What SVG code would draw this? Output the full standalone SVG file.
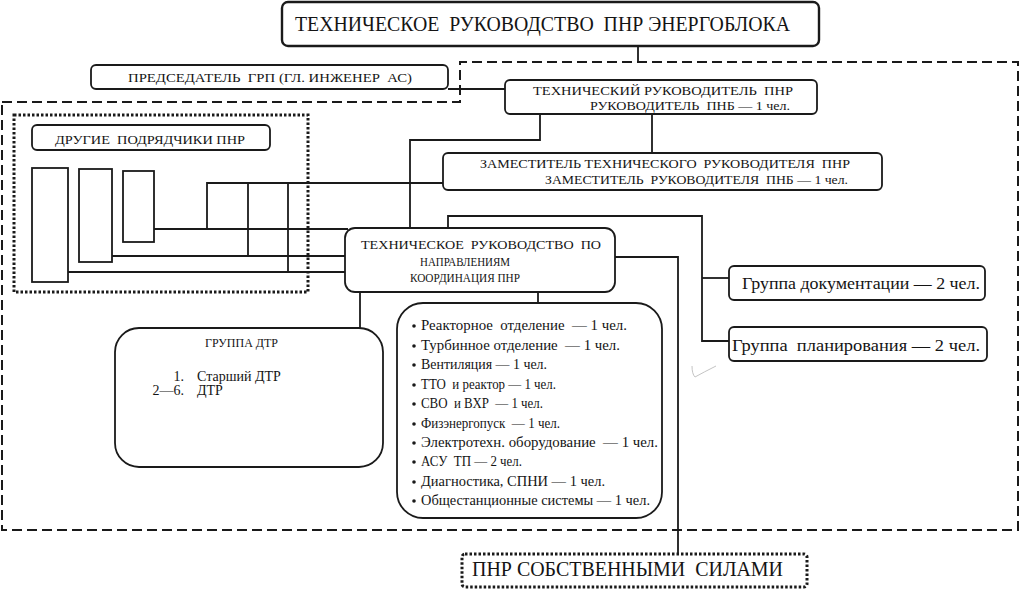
<svg xmlns="http://www.w3.org/2000/svg" width="1024" height="590" viewBox="0 0 1024 590" font-family="'Liberation Serif', 'Times New Roman', 'DejaVu Serif', serif">
<style>
.box{fill:#fff;stroke:#1a1a1a;stroke-width:1.8}
.tbox{fill:#fff;stroke:#1a1a1a;stroke-width:2.4}
.conn{fill:none;stroke:#1a1a1a;stroke-width:1.8}
.dash{fill:none;stroke:#1a1a1a;stroke-width:2;stroke-dasharray:10 5}
.dot{fill:none;stroke:#1a1a1a;stroke-width:3;stroke-dasharray:2.5 2}
text{font-family:"Liberation Serif","Times New Roman","DejaVu Serif",serif;fill:#141414;white-space:pre}
.s13{font-size:13px}
.s14{font-size:14px}
.s12{font-size:12px}
.s17{font-size:17px}
.s21{font-size:21px}
.s22{font-size:22px}
</style>
<rect width="1024" height="590" fill="#fff"/>
<g id="frames">
<path class="dash" d="M2,102 H460 V62 H1018 V530 H2 Z"/>
<rect class="dot" x="14" y="115" width="294" height="177"/>
</g>
<g id="connectors">
<path class="conn" d="M638,46 V62"/>
<path class="conn" d="M448,89 H505"/>
<path class="conn" d="M540,114 V140 H410 V228"/>
<path class="conn" d="M652,114 V153"/>
<path class="conn" d="M443,183 H207 V229"/>
<path class="conn" d="M248,183 V256"/>
<path class="conn" d="M288,183 V272"/>
<path class="conn" d="M154,229 H348"/>
<path class="conn" d="M112,256 H345"/>
<path class="conn" d="M68,272 H345"/>
<path class="conn" d="M448,228 V216 H702 V341 H729"/>
<path class="conn" d="M702,278 H729"/>
<path class="conn" d="M615,257 H678 V554"/>
<path class="conn" d="M360,292 V328"/>
<path class="conn" d="M538,292 V303"/>
</g>
<g id="n-top">
<rect class="tbox" x="282" y="2" width="537" height="44" rx="6"/>
<text class="s22" x="295" y="31" textLength="495" lengthAdjust="spacingAndGlyphs">ТЕХНИЧЕСКОЕ  РУКОВОДСТВО  ПНР ЭНЕРГОБЛОКА</text>
</g>
<g id="n-chair">
<rect class="box" x="91" y="65" width="357" height="24" rx="5"/>
<text class="s13" x="128" y="82" textLength="284" lengthAdjust="spacingAndGlyphs">ПРЕДСЕДАТЕЛЬ  ГРП (ГЛ. ИНЖЕНЕР  АС)</text>
</g>
<g id="n-techlead">
<rect class="box" x="505" y="80" width="312" height="34" rx="5"/>
<text class="s13" x="533" y="95" textLength="260" lengthAdjust="spacingAndGlyphs">ТЕХНИЧЕСКИЙ РУКОВОДИТЕЛЬ  ПНР</text>
<text class="s13" x="590" y="110" textLength="200" lengthAdjust="spacingAndGlyphs">РУКОВОДИТЕЛЬ  ПНБ — 1 чел.</text>
</g>
<g id="n-deputy">
<rect class="box" x="443" y="153" width="439" height="37" rx="5"/>
<text class="s13" x="480" y="168" textLength="370" lengthAdjust="spacingAndGlyphs">ЗАМЕСТИТЕЛЬ ТЕХНИЧЕСКОГО  РУКОВОДИТЕЛЯ  ПНР</text>
<text class="s13" x="545" y="184" textLength="303" lengthAdjust="spacingAndGlyphs">ЗАМЕСТИТЕЛЬ  РУКОВОДИТЕЛЯ  ПНБ — 1 чел.</text>
</g>
<g id="n-others">
<rect class="box" x="32" y="125" width="238" height="25" rx="5"/>
<text class="s13" x="55" y="144" textLength="190" lengthAdjust="spacingAndGlyphs">ДРУГИЕ  ПОДРЯДЧИКИ ПНР</text>
</g>
<g id="n-contractor1"><rect class="box" x="32" y="168" width="36" height="114"/></g>
<g id="n-contractor2"><rect class="box" x="79" y="169" width="33" height="93"/></g>
<g id="n-contractor3"><rect class="box" x="123" y="171" width="31" height="71"/></g>
<g id="n-direction">
<rect class="box" x="345" y="228" width="270" height="64" rx="10"/>
<text class="s13" x="361" y="249" textLength="240" lengthAdjust="spacingAndGlyphs">ТЕХНИЧЕСКОЕ  РУКОВОДСТВО  ПО</text>
<text class="s13" x="420" y="266" textLength="90" lengthAdjust="spacingAndGlyphs">НАПРАВЛЕНИЯМ</text>
<text class="s13" x="410" y="282" textLength="110" lengthAdjust="spacingAndGlyphs">КООРДИНАЦИЯ ПНР</text>
</g>
<g id="n-dtr">
<rect class="box" x="115" y="328" width="268" height="139" rx="24"/>
<text class="s12" x="205" y="347" textLength="73" lengthAdjust="spacingAndGlyphs">ГРУППА ДТР</text>
<text class="s14" x="184" y="381" text-anchor="end">1.</text>
<text class="s14" x="197" y="381">Старший ДТР</text>
<text class="s14" x="184" y="395" text-anchor="end">2—6.</text>
<text class="s14" x="197" y="395">ДТР</text>
</g>
<g id="n-list">
<rect class="box" x="397" y="303" width="265" height="215" rx="26"/>
<g fill="#1a1a1a">
<circle cx="414" cy="326" r="1.8"/><circle cx="414" cy="346" r="1.8"/><circle cx="414" cy="365" r="1.8"/><circle cx="414" cy="385" r="1.8"/><circle cx="414" cy="404" r="1.8"/><circle cx="414" cy="424" r="1.8"/><circle cx="414" cy="443" r="1.8"/><circle cx="414" cy="462" r="1.8"/><circle cx="414" cy="482" r="1.8"/><circle cx="414" cy="501" r="1.8"/>
</g>
<text class="s14" x="421" y="330" textLength="206" lengthAdjust="spacingAndGlyphs">Реакторное  отделение  — 1 чел.</text>
<text class="s14" x="421" y="350" textLength="199" lengthAdjust="spacingAndGlyphs">Турбинное отделение  — 1 чел.</text>
<text class="s14" x="421" y="369" textLength="126" lengthAdjust="spacingAndGlyphs">Вентиляция — 1 чел.</text>
<text class="s14" x="421" y="389" textLength="135" lengthAdjust="spacingAndGlyphs">ТТО  и реактор — 1 чел.</text>
<text class="s14" x="421" y="408" textLength="122" lengthAdjust="spacingAndGlyphs">СВО  и ВХР  — 1 чел.</text>
<text class="s14" x="421" y="428" textLength="139" lengthAdjust="spacingAndGlyphs">Физэнергопуск  — 1 чел.</text>
<text class="s14" x="421" y="447" textLength="237" lengthAdjust="spacingAndGlyphs">Электротехн. оборудование  — 1 чел.</text>
<text class="s14" x="421" y="466" textLength="101" lengthAdjust="spacingAndGlyphs">АСУ  ТП — 2 чел.</text>
<text class="s14" x="421" y="486" textLength="184" lengthAdjust="spacingAndGlyphs">Диагностика, СПНИ — 1 чел.</text>
<text class="s14" x="421" y="505" textLength="229" lengthAdjust="spacingAndGlyphs">Общестанционные системы — 1 чел.</text>
</g>
<g id="n-doc">
<rect class="box" x="729" y="266" width="256" height="34" rx="5"/>
<text class="s17" x="742" y="289" textLength="238" lengthAdjust="spacingAndGlyphs">Группа документации — 2 чел.</text>
</g>
<g id="n-plan">
<rect class="box" x="729" y="327" width="258" height="34" rx="5"/>
<text class="s17" x="732" y="351" textLength="248" lengthAdjust="spacingAndGlyphs">Группа  планирования — 2 чел.</text>
</g>
<g id="n-own">
<rect class="dot" x="462" y="554" width="345" height="33" rx="3"/>
<text class="s21" x="472" y="576" textLength="311" lengthAdjust="spacingAndGlyphs">ПНР СОБСТВЕННЫМИ  СИЛАМИ</text>
</g>
<path d="M692,366 Q692,374 695,377 Q704,372 716,366" fill="none" stroke="#c4c4c4" stroke-width="1"/>
</svg>
